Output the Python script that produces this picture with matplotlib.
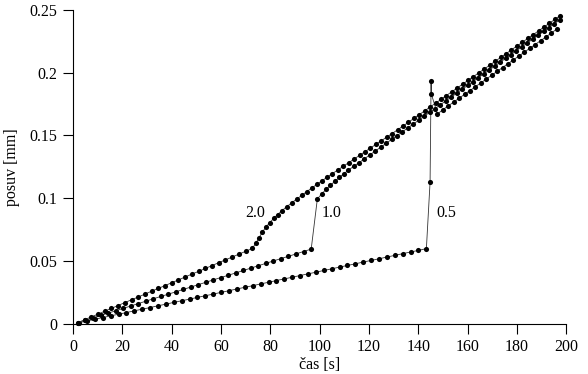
import matplotlib
matplotlib.use("Agg")
import matplotlib.pyplot as plt

plt.rcParams['font.family'] = ['Liberation Serif', 'DejaVu Serif']
plt.rcParams['font.size'] = 11.5

# rychlost zatezovani 0.5
cas_05 = [2.5, 5.7, 8.9, 12.1, 15.3, 18.5, 21.7, 24.9, 28.1, 31.3, 34.5, 37.7, 40.9,
          44.1, 47.3, 50.5, 53.7, 56.9, 60.1, 63.3, 66.5, 69.7, 72.9, 76.1, 79.3, 82.5,
          85.7, 88.9, 92.1, 95.3, 98.5, 101.7, 104.9, 108.1, 111.3, 114.5, 117.7, 120.9,
          124.1, 127.3, 130.5, 133.7, 136.9, 140.1, 143.3,
          144.8, 145.2, 145.3, 147.8,
          150.0, 152.2, 154.4, 156.6, 158.8, 161.0, 163.2, 165.4, 167.6, 169.8, 172.0,
          174.2, 176.4, 178.6, 180.8, 183.0, 185.2, 187.4, 189.6, 191.8, 194.0, 196.4]
posuv_05 = [0.0010, 0.0023, 0.0037, 0.0050, 0.0064, 0.0077, 0.0090, 0.0104, 0.0117,
            0.0130, 0.0144, 0.0157, 0.0171, 0.0184, 0.0197, 0.0211, 0.0224, 0.0237,
            0.0251, 0.0264, 0.0278, 0.0291, 0.0304, 0.0318, 0.0331, 0.0345, 0.0358,
            0.0371, 0.0385, 0.0398, 0.0411, 0.0425, 0.0438, 0.0452, 0.0465, 0.0478,
            0.0492, 0.0505, 0.0518, 0.0532, 0.0545, 0.0559, 0.0572, 0.0585, 0.0599,
            0.1130, 0.1930, 0.1830, 0.1670,
            0.1705, 0.1735, 0.1766, 0.1796, 0.1827, 0.1857, 0.1888, 0.1918, 0.1949,
            0.1979, 0.2010, 0.2040, 0.2071, 0.2101, 0.2132, 0.2162, 0.2193, 0.2223,
            0.2254, 0.2284, 0.2315, 0.2350]

# rychlost zatezovani 1.0
cas_10 = [2.0, 5.1, 8.1, 11.2, 14.2, 17.3, 20.3, 23.4, 26.4, 29.5, 32.5, 35.6, 38.6,
          41.7, 44.7, 47.8, 50.8, 53.9, 56.9, 60.0, 63.0, 66.1, 69.1, 72.2, 75.2, 78.3,
          81.3, 84.4, 87.4, 90.5, 93.5, 96.6,
          99.1, 100.9, 102.6, 104.4, 106.2, 108.0, 109.8, 111.6, 113.8, 116.0, 118.2,
          120.4, 122.6, 124.8, 127.0, 129.2, 131.4, 133.6, 135.8, 138.0, 140.2, 142.4,
          144.6, 146.8, 149.0, 151.2, 153.4, 155.6, 157.8, 160.0, 162.2, 164.4, 166.6,
          168.8, 171.0, 173.2, 175.4, 177.6, 179.8, 182.0, 184.2, 186.4, 188.6, 190.8,
          193.0, 195.2, 197.4]
posuv_10 = [0.0010, 0.0029, 0.0048, 0.0067, 0.0085, 0.0104, 0.0123, 0.0142, 0.0161,
            0.0180, 0.0199, 0.0218, 0.0236, 0.0255, 0.0274, 0.0293, 0.0312, 0.0331,
            0.0350, 0.0369, 0.0387, 0.0406, 0.0425, 0.0444, 0.0463, 0.0482, 0.0501,
            0.0520, 0.0538, 0.0557, 0.0576, 0.0595,
            0.0995, 0.1035, 0.1070, 0.1103, 0.1135, 0.1165, 0.1194, 0.1222, 0.1253,
            0.1283, 0.1314, 0.1345, 0.1376, 0.1406, 0.1437, 0.1468, 0.1498, 0.1529,
            0.1560, 0.1590, 0.1621, 0.1652, 0.1683, 0.1713, 0.1744, 0.1775, 0.1805,
            0.1836, 0.1867, 0.1897, 0.1928, 0.1959, 0.1990, 0.2020, 0.2051, 0.2082,
            0.2112, 0.2143, 0.2174, 0.2204, 0.2235, 0.2266, 0.2297, 0.2327, 0.2358,
            0.2389, 0.2419]

# rychlost zatezovani 2.0
cas_20 = [2.0, 4.7, 7.4, 10.2, 12.9, 15.6, 18.3, 21.0, 23.8, 26.5, 29.2, 31.9, 34.6,
          37.4, 40.1, 42.8, 45.5, 48.2, 51.0, 53.7, 56.4, 59.1, 61.8, 64.6, 67.3, 70.0,
          72.7,
          74.2, 75.5, 76.8, 78.3, 79.8, 81.4, 83.0, 84.8, 86.7, 88.7, 90.7, 92.7, 94.7,
          96.8, 98.9, 101.0, 103.1, 105.2, 107.4,
          109.6, 111.8, 114.0, 116.2, 118.4, 120.6, 122.8, 125.0, 127.2, 129.4, 131.6,
          133.8, 136.0, 138.2, 140.4, 142.6, 144.8, 147.0, 149.2, 151.4, 153.6, 155.8,
          158.0, 160.2, 162.4, 164.6, 166.8, 169.0, 171.2, 173.4, 175.6, 177.8, 180.0,
          182.2, 184.4, 186.6, 188.8, 191.0, 193.2, 195.4, 197.6]
posuv_20 = [0.0010, 0.0033, 0.0055, 0.0078, 0.0101, 0.0123, 0.0146, 0.0169, 0.0192,
            0.0214, 0.0237, 0.0260, 0.0282, 0.0305, 0.0328, 0.0350, 0.0373, 0.0396,
            0.0418, 0.0441, 0.0464, 0.0487, 0.0509, 0.0532, 0.0555, 0.0577, 0.0600,
            0.0643, 0.0687, 0.0730, 0.0772, 0.0806, 0.0840, 0.0870, 0.0902, 0.0933,
            0.0963, 0.0993, 0.1022, 0.1051, 0.1081, 0.1110, 0.1139, 0.1168, 0.1196,
            0.1225,
            0.1254, 0.1283, 0.1312, 0.1341, 0.1370, 0.1399, 0.1428, 0.1457, 0.1486,
            0.1515, 0.1544, 0.1574, 0.1604, 0.1635, 0.1665, 0.1695, 0.1726, 0.1756,
            0.1786, 0.1817, 0.1847, 0.1877, 0.1908, 0.1938, 0.1968, 0.1999, 0.2029,
            0.2059, 0.2090, 0.2120, 0.2150, 0.2181, 0.2211, 0.2241, 0.2272, 0.2302,
            0.2332, 0.2363, 0.2393, 0.2423, 0.2454]

x_ticks = [0, 20, 40, 60, 80, 100, 120, 140, 160, 180, 200]
y_ticks = [0, 0.05, 0.1, 0.15, 0.2, 0.25]
y_tick_labels = ["0", "0.05", "0.1", "0.15", "0.2", "0.25"]

fig = plt.figure(figsize=(5.88, 3.74), dpi=100)
ax = fig.add_axes([0.124, 0.134, 0.839, 0.84])

for t, p in [(cas_05, posuv_05), (cas_10, posuv_10), (cas_20, posuv_20)]:
    ax.plot(t, p, color="#333333", lw=0.6, marker="o", ms=3.7,
            mfc="black", mec="black", mew=0, clip_on=False)

# popisky krivek
ax.text(74, 0.0885, "2.0", ha="center", va="center")
ax.text(104.8, 0.0885, "1.0", ha="center", va="center")
ax.text(151.5, 0.0885, "0.5", ha="center", va="center")

ax.set_xlim(0, 200)
ax.set_ylim(0, 0.25)
ax.set_xticks(x_ticks)
ax.set_yticks(y_ticks)
ax.set_yticklabels(y_tick_labels)
ax.tick_params(direction="out", length=7, width=0.8, pad=4)
ax.spines["top"].set_visible(False)
ax.spines["right"].set_visible(False)
ax.set_xlabel("čas [s]", labelpad=1)
ax.set_ylabel("posuv [mm]", labelpad=7)

plt.savefig("out.png", dpi=100)
